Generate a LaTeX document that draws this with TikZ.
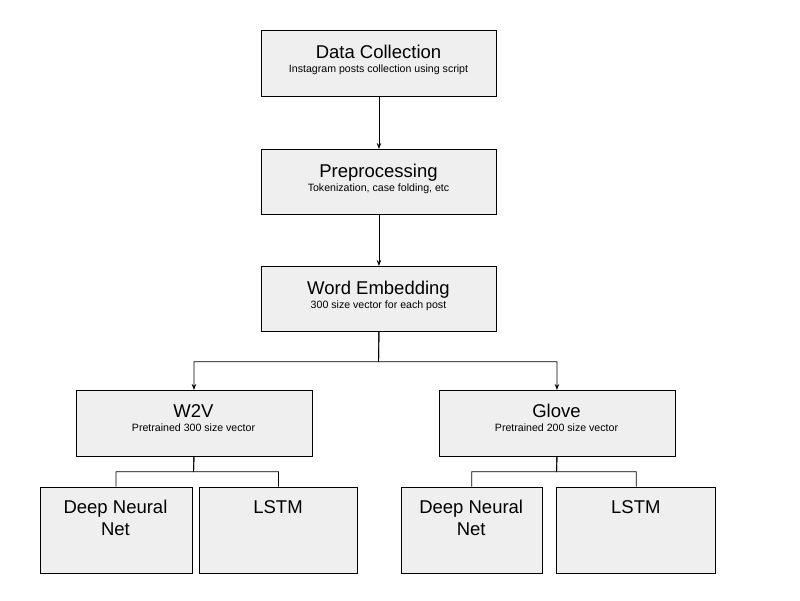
\documentclass[tikz,border=0pt]{standalone}
\usepackage{fontspec}
\setmainfont{Liberation Sans}
\usetikzlibrary{arrows.meta}
\begin{document}
\begin{tikzpicture}[x=1pt,y=-1pt,
  box/.style={draw=black,line width=0.9pt,fill=boxfill,inner sep=0pt,anchor=north west},
  ttl/.style={anchor=base,inner sep=0pt,font=\fontsize{18.5}{22}\selectfont},
  sub/.style={anchor=base,inner sep=0pt,font=\fontsize{10.6}{12}\selectfont},
  big/.style={anchor=base,inner sep=0pt,align=center,font=\fontsize{18.5}{21.7}\selectfont},
  con/.style={line width=0.9pt},
  arr/.style={con,-{Stealth[length=6pt,width=4.5pt]}}]
\definecolor{boxfill}{HTML}{EFEFEF}
\useasboundingbox[fill=white] (0,0) rectangle (800,600);
% boxes
\node[box,minimum width=235pt,minimum height=66pt] (dc) at (261,30) {};
\node[box,minimum width=235pt,minimum height=65pt] (pp) at (261,149) {};
\node[box,minimum width=235pt,minimum height=65pt] (we) at (261,266) {};
\node[box,minimum width=236pt,minimum height=66pt] (w2v) at (75.5,390) {};
\node[box,minimum width=236pt,minimum height=66pt] (gl) at (438.5,390) {};
\node[box,minimum width=152pt,minimum height=86pt] (dnn1) at (39.5,486.5) {};
\node[box,minimum width=158.5pt,minimum height=86pt] (ls1) at (198.8,486.5) {};
\node[box,minimum width=141pt,minimum height=86pt] (dnn2) at (400.8,486.5) {};
\node[box,minimum width=159pt,minimum height=86pt] (ls2) at (556.3,486.5) {};
% texts
\node[ttl] (dct) at (378.5,58) {Data Collection};
\node[sub] (dcs) at (378.5,72.5) {Instagram posts collection using script};
\node[ttl] (ppt) at (378.5,177) {Preprocessing};
\node[sub] (pps) at (378.5,191.5) {Tokenization, case folding, etc};
\node[ttl] (wet) at (378.5,294.5) {Word Embedding};
\node[sub] (wes) at (378.5,308.5) {300 size vector for each post};
\node[ttl] (w2vt) at (193.5,417.3) {W2V};
\node[sub] (w2vs) at (193.5,431) {Pretrained 300 size vector};
\node[ttl] (glt) at (556.5,417.3) {Glove};
\node[sub] (gls) at (556.5,431) {Pretrained 200 size vector};
\node[big] (dnn1t) at (115.5,535) {Deep Neural\\Net};
\node[big] (ls1t) at (278,513.3) {LSTM};
\node[big] (dnn2t) at (471.2,535) {Deep Neural\\Net};
\node[big] (ls2t) at (635.8,513.3) {LSTM};
% connectors
\draw[arr] (dc.south) -- (pp.north);
\draw[arr] (pp.south) -- (we.north);
\coordinate (wej) at (378.5,361.7);
\draw[arr] (we.south) -- (wej) -| (w2v.north);
\draw[arr] (we.south) -- (wej) -| (gl.north);
\coordinate (w2vj) at (193.5,471.7);
\draw[con] (w2v.south) -- (w2vj) -| (dnn1.north);
\draw[con] (w2v.south) -- (w2vj) -| (ls1.north);
\coordinate (glj) at (556.5,471.7);
\draw[con] (gl.south) -- (glj) -| (dnn2.north);
\draw[con] (gl.south) -- (glj) -| (ls2.north);
\end{tikzpicture}
\end{document}
